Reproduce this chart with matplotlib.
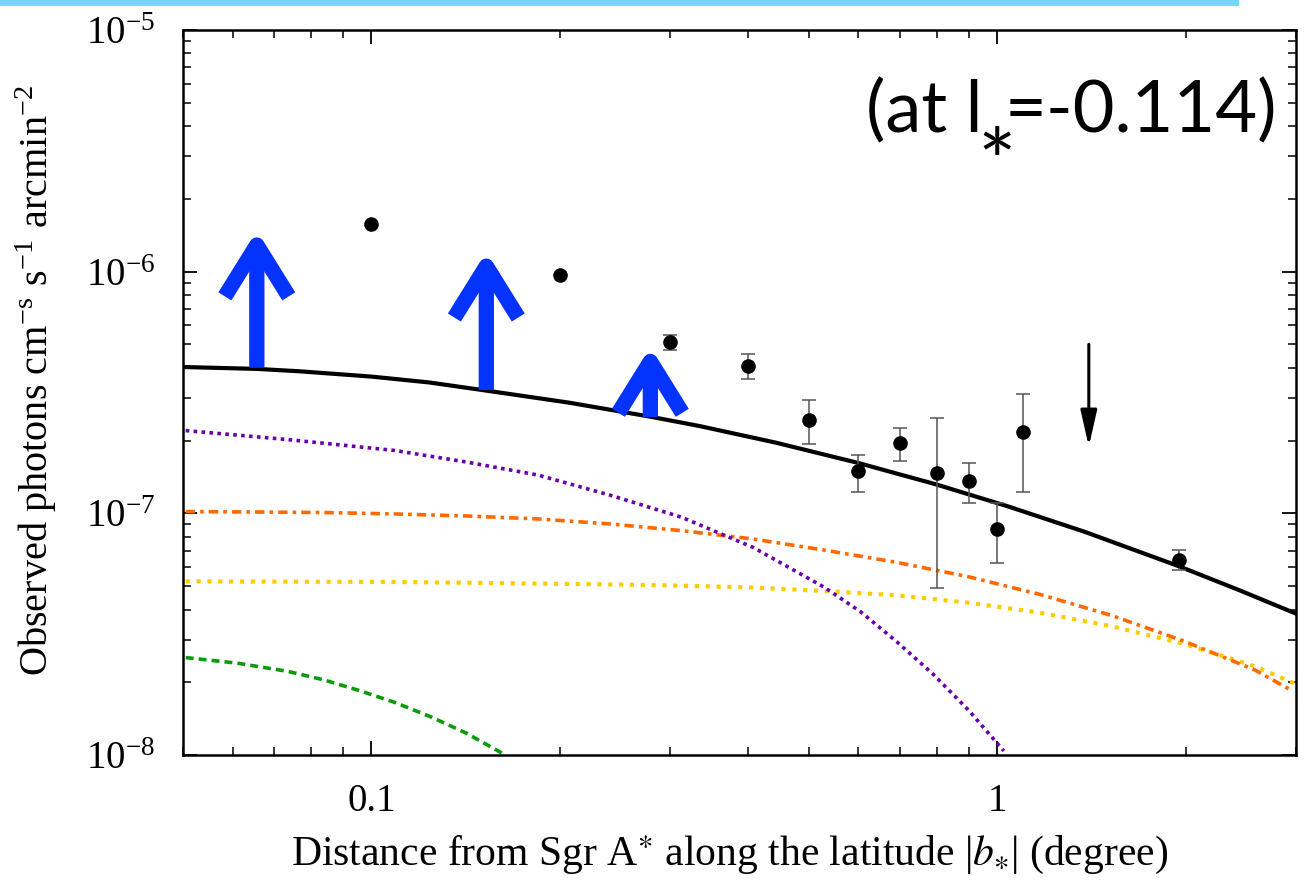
# coding=utf-8
import numpy as np
import matplotlib
matplotlib.use('Agg')
import matplotlib.pyplot as plt
from matplotlib.patches import Rectangle
from matplotlib.ticker import NullFormatter, LogLocator

# observed surface brightness along the latitude
b_obs = [0.1, 0.2, 0.3, 0.4, 0.5, 0.6, 0.7, 0.8, 0.9, 1.0, 1.1, 1.95]
f_obs = [1.57e-6, 9.7e-7, 5.12e-7, 4.08e-7, 2.44e-7, 1.49e-7, 1.95e-7, 1.47e-7, 1.36e-7, 8.6e-8, 2.17e-7, 6.4e-8]
f_hi = [np.nan, np.nan, 5.47e-7, 4.58e-7, 2.94e-7, 1.75e-7, 2.25e-7, 2.47e-7, 1.61e-7, 1.10e-7, 3.11e-7, 7.03e-8]
f_lo = [np.nan, np.nan, 4.74e-7, 3.60e-7, 1.94e-7, 1.22e-7, 1.64e-7, 4.93e-8, 1.10e-7, 6.21e-8, 1.22e-7, 5.83e-8]

# upper limit
ul_b = 1.4
ul_top = 5.0e-7
ul_val = 1.89e-7

# lower limits (blue arrows)
ll_b = [0.0656, 0.1526, 0.279]
ll_base = [4.0e-7, 3.24e-7, 2.50e-7]
ll_tip = [1.48e-6, 1.21e-6, 4.88e-7]

# model components
tot_b = [0.0503, 0.0656, 0.0768, 0.1, 0.1237, 0.1526, 0.2070, 0.2793, 0.3336, 0.4431,
         0.5971, 0.7963, 1.038, 1.380, 1.950, 2.434, 2.99]
tot_f = [4.03e-7, 3.96e-7, 3.87e-7, 3.68e-7, 3.48e-7, 3.22e-7, 2.87e-7, 2.51e-7, 2.30e-7, 1.96e-7,
         1.62e-7, 1.32e-7, 1.07e-7, 8.38e-8, 6.04e-8, 4.81e-8, 3.86e-8]

pur_b = [0.0505, 0.0734, 0.109, 0.1419, 0.1846, 0.2403, 0.3128, 0.4072, 0.530, 0.605,
         0.690, 0.788, 0.898, 1.024]
pur_f = [2.20e-7, 2.02e-7, 1.82e-7, 1.63e-7, 1.44e-7, 1.19e-7, 9.64e-8, 7.23e-8, 4.93e-8, 3.91e-8,
         2.95e-8, 2.17e-8, 1.54e-8, 1.04e-8]

ora_b = [0.0505, 0.0643, 0.0837, 0.109, 0.1419, 0.1846, 0.2403, 0.3128, 0.4072, 0.530,
         0.690, 0.898, 1.169, 1.522, 1.980, 2.578, 2.941]
ora_f = [1.017e-7, 1.013e-7, 1.008e-7, 9.94e-8, 9.75e-8, 9.48e-8, 9.04e-8, 8.48e-8, 7.83e-8, 7.04e-8,
         6.27e-8, 5.47e-8, 4.62e-8, 3.78e-8, 2.97e-8, 2.25e-8, 1.86e-8]

yel_b = [0.0505, 0.109, 0.2403, 0.3128, 0.4072, 0.530, 0.690, 0.898, 1.169, 1.522,
         1.980, 2.578, 2.979]
yel_f = [5.23e-8, 5.20e-8, 5.08e-8, 5.02e-8, 4.93e-8, 4.77e-8, 4.58e-8, 4.27e-8, 3.88e-8, 3.41e-8,
         2.89e-8, 2.33e-8, 1.98e-8]

grn_b = [0.0505, 0.0610, 0.0734, 0.0837, 0.0955, 0.109, 0.1243, 0.1419, 0.1639]
grn_f = [2.53e-8, 2.40e-8, 2.22e-8, 2.05e-8, 1.85e-8, 1.65e-8, 1.44e-8, 1.23e-8, 9.98e-9]


def label_position(fig, fs):
    # "(at l*=-0.114)" built from three pieces so the star can be larger
    fam = ['Lato', 'DejaVu Sans']
    yb = 1 - 132 / 892
    r = fig.canvas.get_renderer()
    t2 = fig.text(1277 / 1312, yb, '=-0.114)', ha='right', va='baseline',
                  fontsize=fs, family=fam)
    x0 = t2.get_window_extent(r).x0 / fig.bbox.width
    fig.text(x0 - 8 / 1312, yb - 62 / 892, '*', ha='center', va='baseline',
             fontsize=fs * 1.25, family=fam)
    fig.text(x0 - 22 / 1312, yb, '(at l', ha='right', va='baseline',
             fontsize=fs, family=fam)


def main():
    plt.rcParams['font.family'] = ['Liberation Serif', 'DejaVu Serif']
    plt.rcParams['mathtext.fontset'] = 'stix'
    plt.rcParams['axes.unicode_minus'] = False

    fig = plt.figure(figsize=(13.12, 8.92), dpi=100)
    ax = fig.add_axes([183 / 1312, 137 / 892, 1113 / 1312, 725 / 892])
    ax.set_xscale('log')
    ax.set_yscale('log')
    ax.set_xlim(0.05, 3.0)
    ax.set_ylim(1e-8, 1e-5)

    # models
    ax.plot(grn_b, grn_f, color='#0a9a0a', lw=2.6, ls=(0, (2.2, 1.4)))
    ax.plot(yel_b, yel_f, color='#ffcc00', lw=3.0, ls=(0, (1.0, 1.6)))
    ax.plot(ora_b, ora_f, color='#ff6a00', lw=2.6, ls=(0, (2.6, 1.4, 1.0, 1.4)))
    ax.plot(pur_b, pur_f, color='#6a00a8', lw=2.6, ls=(0, (1.0, 1.2)))
    ax.plot(tot_b, tot_f, color='black', lw=3.0)

    # data with error bars
    b = np.array(b_obs)
    f = np.array(f_obs)
    hi = np.array(f_hi)
    lo = np.array(f_lo)
    m = ~np.isnan(hi)
    ax.errorbar(b[m], f[m], yerr=[f[m] - lo[m], hi[m] - f[m]], fmt='none',
                ecolor='#555555', elinewidth=1.1, capsize=5, capthick=1.1)
    ax.plot(b, f, 'o', color='black', ms=9.5)

    # upper limit
    ax.annotate('', xy=(ul_b, ul_val), xytext=(ul_b, ul_top),
                arrowprops=dict(arrowstyle='-|>,head_length=22,head_width=5',
                                mutation_scale=1, color='black', lw=2.2,
                                shrinkA=0, shrinkB=0))

    # lower limits
    for x, y0, y1 in zip(ll_b, ll_base, ll_tip):
        ax.annotate('', xy=(x, y1), xytext=(x, y0),
                    arrowprops=dict(arrowstyle='->,head_length=37,head_width=23',
                                    mutation_scale=1, color='#0433ff', lw=11,
                                    shrinkA=0, shrinkB=0, capstyle='butt',
                                    joinstyle='round'))

    label_position(fig, 52)

    # axes styling
    for s in ax.spines.values():
        s.set_linewidth(1.8)
    ax.tick_params(which='both', direction='in', top=True, right=True)
    ax.tick_params(which='major', length=10, width=1.3, labelsize=28, pad=20)
    ax.tick_params(which='minor', length=6, width=1.1)
    ax.set_xticks([0.1, 1])
    ax.set_xticklabels(['0.1', '1'])
    ax.xaxis.set_minor_formatter(NullFormatter())
    ax.yaxis.set_major_locator(LogLocator(base=10))
    ax.yaxis.set_minor_formatter(NullFormatter())

    fig.text(36 / 1312, 1 - 380 / 892,
             'Observed photons cm$^{\\mathregular{-s}}$ s$^{\\mathregular{-1}}$ arcmin$^{\\mathregular{-2}}$',
             rotation=90, ha='center', va='center', fontsize=29)
    fig.text(730 / 1312, 1 - 855 / 892,
             'Distance from Sgr A$^{\\ast}$ along the latitude |$b_{\\ast}$| (degree)',
             ha='center', va='center', fontsize=30)

    fig.add_artist(Rectangle((0, 1 - 6 / 892), 1239 / 1312, 6 / 892,
                             transform=fig.transFigure, color='#76d6ff', lw=0))

    fig.savefig('out.png', dpi=100)


if __name__ == '__main__':
    main()
